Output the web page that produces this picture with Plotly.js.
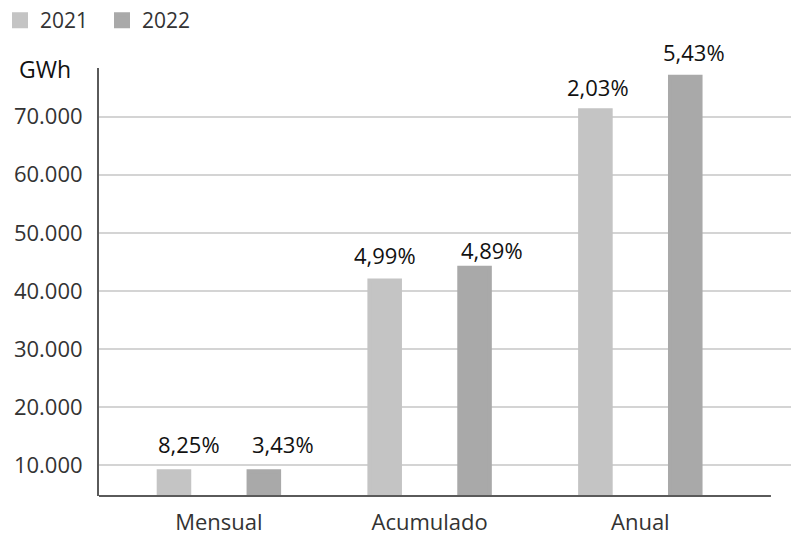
<!DOCTYPE html>
<html>
<head>
<meta charset="utf-8">
<script src="https://cdn.plot.ly/plotly-3.0.1.min.js"></script>
<style>
  html, body { margin: 0; padding: 0; background: #fff; }
  #chart { width: 791px; height: 536px; }
</style>
</head>
<body>
<div id="chart"></div>
<script>
// Electricity demand (GWh) by period, 2021 vs 2022
const categories = ['Mensual', 'Acumulado', 'Anual'];
const years = ['2021', '2022'];
const values2021 = [8900, 41800, 71100];
const values2022 = [8900, 44000, 76900];
const growth2021 = ['8,25%', '4,99%', '2,03%'];
const growth2022 = ['3,43%', '4,89%', '5,43%'];
const yTicks = [10000, 20000, 30000, 40000, 50000, 60000, 70000];

const FONT = '"Open Sans", "Noto Sans", sans-serif';
const colors = ['#c4c4c4', '#a9a9a9'];

// a thin outline in the fill colour also enlarges the legend swatches
const traces = [values2021, values2022].map((vals, i) => ({
  type: 'bar',
  name: years[i],
  x: categories,
  y: vals,
  marker: { color: colors[i], line: { color: colors[i], width: 4 } },
  hoverinfo: 'x+y+name'
}));

// label placement relative to the top of each bar (pixels)
const labelShiftX = [[15, 0, 3], [19, 17, 9]];
const labelShiftY = [[27, 25, 23], [27, 18, 25]];
const barOffsetPx = [-45, 45];

const annotations = [];
[growth2021, growth2022].forEach((labels, s) => {
  const vals = s === 0 ? values2021 : values2022;
  labels.forEach((txt, c) => {
    annotations.push({
      x: categories[c], y: vals[c], xref: 'x', yref: 'y',
      text: txt, showarrow: false,
      xanchor: 'center', yanchor: 'middle',
      xshift: barOffsetPx[s] + labelShiftX[s][c],
      yshift: labelShiftY[s][c],
      font: { family: FONT, size: 22, color: '#111' }
    });
  });
});

annotations.push({
  xref: 'paper', yref: 'paper', x: 0, y: 1,
  xanchor: 'right', yanchor: 'middle', xshift: -26, yshift: -1,
  text: 'GWh', showarrow: false,
  font: { family: FONT, size: 23, color: '#111' }
});

const layout = {
  width: 791, height: 536,
  margin: { l: 99, r: 0, t: 68, b: 40 },
  paper_bgcolor: '#fff', plot_bgcolor: '#fff',
  separators: ',.',
  font: { family: FONT, size: 21, color: '#333' },
  barmode: 'group',
  bargap: 0.147,
  bargroupgap: 0.66,
  showlegend: true,
  legend: {
    orientation: 'h',
    xref: 'paper', yref: 'container',
    x: -0.157, y: 1, xanchor: 'left', yanchor: 'top',
    entrywidth: 57, entrywidthmode: 'pixels',
    font: { family: FONT, size: 21, color: '#333' },
    bgcolor: 'rgba(0,0,0,0)'
  },
  xaxis: {
    type: 'category',
    range: [-0.569, 2.715],
    showline: false, showgrid: false, zeroline: false,
    ticks: '',
    ticklabelstandoff: 11,
    tickfont: { family: FONT, size: 22, color: '#333' },
    fixedrange: true
  },
  yaxis: {
    range: [4655, 78400],
    tickvals: yTicks,
    tickformat: ',d',
    showgrid: true, gridcolor: '#d4d4d4', gridwidth: 2,
    zeroline: false,
    showline: true, linecolor: '#5a5a5a', linewidth: 2,
    ticks: '',
    ticklabelstandoff: 10,
    tickfont: { family: FONT, size: 22, color: '#333' },
    fixedrange: true
  },
  shapes: [{
    type: 'line', xref: 'paper', yref: 'paper',
    x0: 0, x1: 0.971, y0: 0, y1: 0,
    line: { color: '#5a5a5a', width: 2 }
  }],
  annotations: annotations
};

Plotly.newPlot('chart', traces, layout, { displayModeBar: false, staticPlot: true });
</script>
</body>
</html>
